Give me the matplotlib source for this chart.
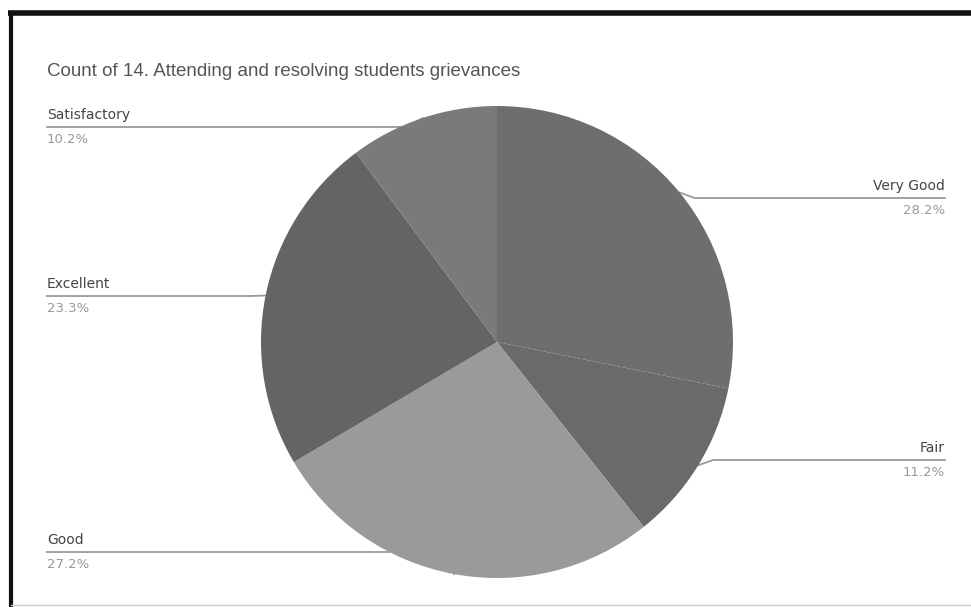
import numpy as np
import matplotlib

matplotlib.use("Agg")
import matplotlib.pyplot as plt

# Данные диаграммы
categories = ["Very Good", "Fair", "Good", "Excellent", "Satisfactory"]
counts = [58, 23, 56, 48, 21]
pct_labels = ["28.2%", "11.2%", "27.2%", "23.3%", "10.2%"]
colors = ["#6e6e6e", "#6a6a6a", "#9a9a9a", "#646464", "#7a7a7a"]

W, H = 971, 607
CX, CY, R = 497, H - 342, 236

fig = plt.figure(figsize=(W / 100, H / 100), dpi=100)
ax = fig.add_axes([0, 0, 1, 1])

wedges, _ = ax.pie(
    counts,
    colors=colors,
    startangle=90,
    counterclock=False,
    center=(CX, CY),
    radius=R,
    wedgeprops={"linewidth": 0},
    frame=True,
)
ax.set_xlim(0, W)
ax.set_ylim(0, H)
ax.set_aspect("equal")
ax.axis("off")

# рамка скриншота
ax.plot([8, W], [H - 13, H - 13], color="#111111", lw=4, solid_capstyle="butt")
ax.plot([11, 11], [0, H - 13], color="#111111", lw=3, solid_capstyle="butt")
ax.plot([11, W], [2, 2], color="#cccccc", lw=1)

ax.text(47, H - 72, "Count of 14. Attending and resolving students grievances",
        fontsize=13.5, color="#555555", va="center", ha="left",
        family="Liberation Sans")

# подписи с выносками
label_y = {"Very Good": 198, "Fair": 460, "Good": 552,
           "Excellent": 296, "Satisfactory": 127}
for w, name, pct in zip(wedges, categories, pct_labels):
    mid = np.deg2rad((w.theta1 + w.theta2) / 2)
    ex = CX + R * np.cos(mid)
    ey = CY + R * np.sin(mid)
    ly = H - label_y[name]
    if np.cos(mid) > 0:
        xs = [ex, ex + 15, 945]
        tx, ha = 945, "right"
    else:
        xs = [ex, ex - 15, 47]
        tx, ha = 47, "left"
    ys = [ey, ly, ly]
    ax.plot(xs, ys, color="#9a9a9a", lw=1.3, zorder=0)
    ax.text(tx, ly + 5, name, fontsize=10, color="#444444", ha=ha, va="bottom",
            family="DejaVu Sans")
    ax.text(tx, ly - 6, pct, fontsize=9.5, color="#999999", ha=ha, va="top",
            family="DejaVu Sans")

fig.savefig("out.png", dpi=100)
